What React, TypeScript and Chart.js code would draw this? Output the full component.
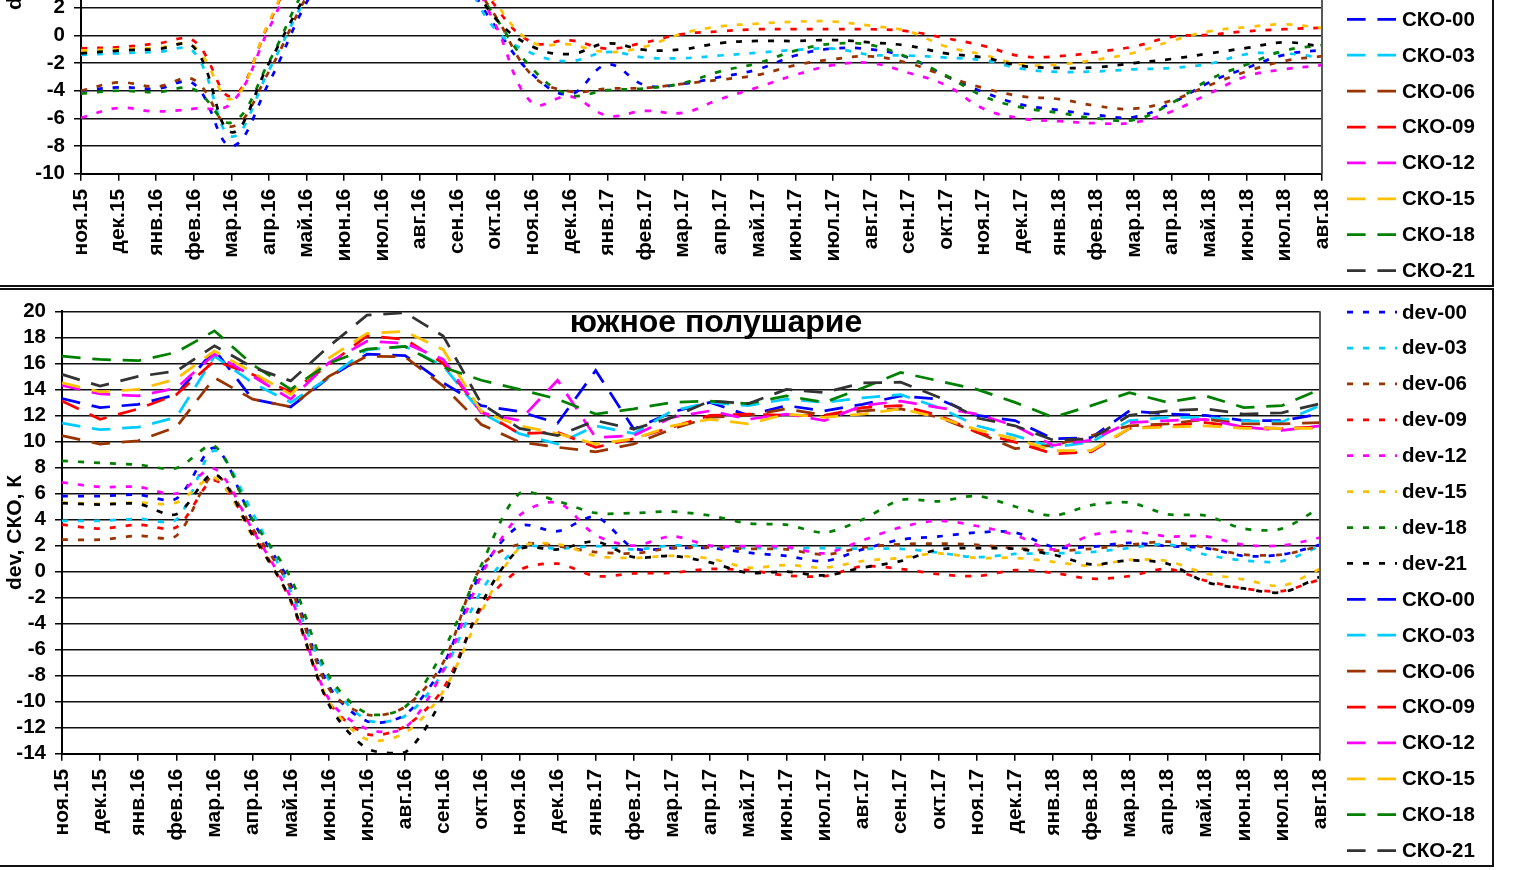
import React, { useEffect, useRef } from "react";
import { Chart, registerables } from "chart.js";

Chart.register(...registerables);

// ---- categories ----
const MONTHS = [
  "ноя.15", "дек.15", "янв.16", "фев.16", "мар.16", "апр.16", "май.16", "июн.16",
  "июл.16", "авг.16", "сен.16", "окт.16", "ноя.16", "дек.16", "янв.17", "фев.17",
  "мар.17", "апр.17", "май.17", "июн.17", "июл.17", "авг.17", "сен.17", "окт.17",
  "ноя.17", "дек.17", "янв.18", "фев.18", "мар.18", "апр.18", "май.18", "июн.18",
  "июл.18", "авг.18",
];

const HOURS = ["00", "03", "06", "09", "12", "15", "18", "21"];
const DEV_COLORS = ["#0000ff", "#00ccff", "#993300", "#ff0000", "#ff00ff", "#ffc000", "#008000", "#000000"];
const SKO_COLORS = ["#0000ff", "#00ccff", "#993300", "#ff0000", "#ff00ff", "#ffc000", "#008000", "#333333"];

// ---- northern hemisphere: dev ----
const northDev00 = [-4.0, -3.75, -3.85, -3.5, -8.0, -3.4, 2.4, 6.5, 8.0, 7.5, 4.8, 0.7, -2.8, -4.25, -2.1, -3.6, -3.5, -3.0, -2.45, -1.45, -0.95, -1.0, -1.6, -2.95, -4.1, -5.0, -5.4, -5.75, -5.9, -4.9, -3.4, -2.35, -1.4, -1.05];
const northDev03 = [-1.4, -1.3, -1.2, -1.2, -7.3, -2.5, 2.8, 6.8, 8.2, 7.8, 5.0, 0.5, -1.3, -1.85, -1.2, -1.6, -1.64, -1.45, -1.25, -1.05, -0.95, -1.4, -1.45, -1.6, -1.8, -2.4, -2.64, -2.6, -2.45, -2.35, -2.05, -1.35, -1.3, -1.6];
const northDev06 = [-4.0, -3.4, -3.7, -3.2, -6.6, -2.6, 2.8, 6.8, 8.0, 7.8, 5.2, 1.5, -2.9, -4.05, -3.85, -3.8, -3.5, -3.2, -2.85, -2.15, -1.72, -1.52, -2.0, -2.95, -3.8, -4.4, -4.6, -5.1, -5.3, -4.7, -3.6, -2.6, -1.85, -1.5];
const northDev09 = [-0.93, -0.85, -0.6, -0.4, -4.4, 0.9, 6.5, 9.0, 10.0, 9.5, 7.0, 2.2, -0.5, -0.35, -0.95, -0.5, 0.1, 0.3, 0.45, 0.45, 0.45, 0.45, 0.3, -0.2, -0.75, -1.5, -1.5, -1.2, -0.8, -0.1, 0.05, 0.3, 0.45, 0.55];
const northDev12 = [-5.95, -5.25, -5.5, -5.3, -4.9, 0.5, 6.0, 8.5, 9.5, 9.0, 6.0, 0.9, -4.9, -4.4, -5.8, -5.45, -5.6, -4.6, -3.75, -2.85, -2.15, -2.0, -2.7, -3.6, -5.3, -6.0, -6.2, -6.35, -6.3, -5.5, -4.2, -2.95, -2.45, -2.15];
const northDev15 = [-1.1, -1.0, -0.9, -0.8, -4.6, 1.0, 6.5, 9.2, 10.2, 9.8, 7.3, 2.5, -0.5, -0.65, -1.2, -0.8, 0.15, 0.65, 0.85, 1.0, 1.0, 0.7, 0.3, -0.8, -1.4, -2.1, -2.1, -1.75, -1.25, -0.4, 0.3, 0.6, 0.8, 0.55];
const northDev18 = [-4.2, -4.0, -4.1, -3.9, -6.3, -1.9, 3.6, 7.2, 8.5, 8.2, 5.5, 1.4, -2.4, -4.3, -3.95, -3.83, -3.45, -2.6, -2.0, -1.1, -0.6, -0.7, -1.6, -2.9, -4.4, -5.2, -5.6, -6.0, -6.1, -4.9, -3.2, -2.1, -1.1, -0.7];
const northDev21 = [-1.3, -1.1, -1.0, -0.85, -7.0, -2.0, 3.0, 7.0, 8.5, 8.0, 5.5, 1.3, -0.8, -1.35, -0.57, -1.05, -1.0, -0.55, -0.4, -0.4, -0.33, -0.5, -0.75, -1.3, -1.6, -2.2, -2.35, -2.3, -2.0, -1.7, -1.3, -0.9, -0.5, -0.8];

// ---- northern hemisphere: СКО ----
const northSko00 = [8.6, 9.1, 9.4, 9.0, 11.2, 10.4, 9.0, 7.8, 8.3, 8.7, 8.1, 8.5, 9.2, 9.8, 10.1, 9.7, 9.3, 8.9, 8.4, 7.9, 8.0, 8.3, 8.6, 8.9, 9.5, 9.9, 10.3, 10.0, 9.6, 9.1, 8.6, 8.1, 8.2, 8.5];
const northSko03 = [7.9, 8.3, 8.8, 8.5, 10.6, 9.9, 8.6, 7.5, 7.9, 8.2, 7.7, 8.0, 8.6, 9.1, 9.5, 9.2, 8.8, 8.5, 8.0, 7.6, 7.7, 7.9, 8.2, 8.4, 8.9, 9.3, 9.7, 9.5, 9.1, 8.7, 8.2, 7.8, 7.8, 8.1];
const northSko06 = [7.2, 7.7, 8.1, 7.8, 9.8, 9.2, 8.1, 7.0, 7.3, 7.6, 7.2, 7.5, 8.0, 8.5, 8.8, 8.6, 8.2, 7.9, 7.5, 7.1, 7.2, 7.4, 7.6, 7.9, 8.3, 8.7, 9.0, 8.8, 8.5, 8.1, 7.7, 7.3, 7.3, 7.6];
const northSko09 = [7.8, 8.2, 8.6, 8.4, 10.3, 9.7, 8.7, 7.6, 7.9, 8.1, 7.8, 8.1, 8.5, 9.0, 9.3, 9.1, 8.7, 8.4, 8.0, 7.7, 7.8, 7.9, 8.1, 8.4, 8.8, 9.2, 9.5, 9.3, 9.0, 8.6, 8.2, 7.9, 7.9, 8.1];
const northSko12 = [9.4, 9.9, 10.3, 10.0, 11.9, 11.2, 9.9, 8.7, 9.1, 9.4, 8.9, 9.3, 9.9, 10.5, 10.8, 10.5, 10.1, 9.7, 9.2, 8.8, 8.9, 9.1, 9.4, 9.7, 10.2, 10.7, 11.0, 10.8, 10.4, 9.9, 9.4, 8.9, 9.0, 9.3];
const northSko15 = [9.0, 9.5, 9.9, 9.6, 11.6, 10.9, 9.6, 8.4, 8.8, 9.1, 8.6, 9.0, 9.6, 10.1, 10.5, 10.2, 9.8, 9.4, 8.9, 8.5, 8.6, 8.8, 9.1, 9.4, 9.9, 10.3, 10.7, 10.5, 10.1, 9.6, 9.1, 8.7, 8.7, 9.0];
const northSko18 = [10.2, 10.7, 11.1, 10.8, 12.6, 11.9, 10.6, 9.4, 9.8, 10.1, 9.6, 10.0, 10.6, 11.2, 11.5, 11.2, 10.8, 10.4, 9.9, 9.5, 9.6, 9.8, 10.1, 10.4, 10.9, 11.4, 11.7, 11.5, 11.1, 10.6, 10.1, 9.6, 9.7, 10.0];
const northSko21 = [9.8, 10.3, 10.7, 10.4, 12.3, 11.6, 10.3, 9.1, 9.5, 9.8, 9.3, 9.7, 10.3, 10.9, 11.2, 10.9, 10.5, 10.1, 9.6, 9.2, 9.3, 9.5, 9.8, 10.1, 10.6, 11.0, 11.4, 11.2, 10.8, 10.3, 9.8, 9.3, 9.4, 9.7];

// ---- southern hemisphere: dev ----
const southDev00 = [5.8, 5.8, 5.9, 5.6, 9.5, 3.9, -1.0, -8.8, -11.5, -11.0, -7.2, 0.0, 3.5, 3.1, 4.2, 1.8, 1.8, 1.8, 1.45, 1.2, 0.8, 1.7, 2.45, 2.7, 3.0, 3.0, 1.9, 1.9, 2.2, 1.95, 1.8, 1.2, 1.3, 2.05];
const southDev03 = [3.9, 3.9, 4.05, 4.0, 9.3, 4.5, -1.5, -8.3, -11.4, -11.1, -7.7, -1.5, 1.85, 1.75, 1.95, 1.7, 2.0, 1.95, 1.8, 1.8, 1.8, 1.75, 1.75, 1.45, 1.1, 1.35, 1.4, 1.5, 1.8, 2.1, 1.3, 0.85, 0.8, 1.95];
const southDev06 = [2.45, 2.45, 2.75, 2.75, 7.4, 3.3, -1.3, -9.0, -11.0, -10.4, -7.0, 0.4, 2.1, 1.95, 1.5, 1.4, 1.8, 1.85, 1.75, 1.7, 1.3, 1.85, 2.1, 2.15, 2.05, 1.8, 1.6, 1.75, 2.05, 2.3, 1.85, 1.3, 1.3, 1.95];
const southDev09 = [3.6, 3.3, 3.6, 3.4, 7.0, 3.0, -2.3, -10.0, -12.5, -11.9, -9.0, -2.8, 0.1, 0.6, -0.35, -0.15, -0.1, 0.2, 0.1, -0.3, -0.35, 0.4, 0.2, -0.2, -0.35, 0.1, -0.1, -0.55, -0.35, 0.2, -0.7, -1.3, -1.5, -0.6];
const southDev12 = [6.85, 6.5, 6.5, 6.0, 7.9, 3.2, -2.0, -9.8, -12.1, -12.0, -7.6, -0.3, 4.3, 5.3, 2.8, 2.0, 2.7, 2.0, 1.95, 1.9, 1.4, 2.4, 3.4, 3.9, 3.5, 2.8, 1.7, 2.8, 3.1, 2.7, 2.7, 2.05, 2.0, 2.6];
const southDev15 = [5.3, 5.2, 5.3, 5.3, 7.2, 2.7, -2.2, -10.0, -12.9, -12.4, -9.2, -3.1, 1.8, 2.1, 1.2, 1.05, 1.2, 1.0, 0.3, 0.5, 0.3, 0.8, 1.05, 1.4, 1.05, 1.05, 0.75, 0.45, 0.9, 0.8, -0.15, -0.6, -1.1, 0.2];
const southDev18 = [8.5, 8.35, 8.2, 7.95, 9.65, 4.0, -0.5, -8.0, -10.9, -10.4, -6.1, 0.5, 6.0, 5.4, 4.5, 4.5, 4.6, 4.3, 3.7, 3.6, 3.0, 4.0, 5.5, 5.4, 5.8, 5.0, 4.3, 5.1, 5.3, 4.4, 4.3, 3.3, 3.3, 4.9];
const southDev21 = [5.25, 5.15, 5.2, 4.4, 7.5, 2.8, -2.2, -10.2, -13.6, -13.9, -9.6, -2.5, 1.7, 1.7, 2.3, 1.1, 1.2, 0.7, -0.1, 0.0, -0.3, 0.3, 0.8, 1.7, 1.8, 1.75, 1.3, 0.55, 0.85, 0.6, -0.8, -1.3, -1.6, -0.4];

// ---- southern hemisphere: СКО ----
const southSko00 = [13.3, 12.6, 12.85, 13.6, 17.05, 13.25, 12.65, 14.9, 16.7, 16.6, 14.5, 12.75, 12.3, 11.4, 15.45, 10.95, 12.25, 13.0, 12.0, 12.75, 12.35, 12.85, 13.5, 13.25, 12.0, 11.6, 10.2, 10.3, 12.35, 12.1, 12.0, 11.6, 11.6, 12.1];
const southSko03 = [11.4, 10.9, 11.1, 11.85, 16.55, 14.5, 13.0, 14.9, 17.05, 17.3, 15.8, 12.2, 10.6, 9.8, 11.2, 10.6, 12.35, 13.0, 12.75, 13.25, 13.0, 13.35, 13.6, 12.6, 11.2, 10.45, 9.55, 9.95, 11.6, 11.85, 11.85, 11.6, 11.5, 12.75];
const southSko06 = [10.45, 9.8, 10.05, 11.1, 14.9, 13.25, 12.65, 15.0, 16.55, 16.5, 14.25, 11.3, 9.95, 9.55, 9.2, 9.8, 10.95, 11.85, 12.0, 12.5, 12.0, 12.35, 12.5, 11.85, 10.7, 9.45, 9.7, 10.45, 11.2, 11.35, 11.7, 11.35, 11.35, 11.45];
const southSko09 = [13.1, 11.7, 12.5, 13.6, 16.2, 15.15, 13.8, 15.9, 18.1, 17.85, 16.0, 12.3, 10.6, 10.7, 9.55, 10.2, 11.1, 12.0, 12.1, 12.0, 12.0, 12.6, 12.75, 12.0, 10.7, 9.95, 9.05, 9.2, 11.0, 11.2, 11.45, 11.1, 11.0, 11.1];
const southSko12 = [14.3, 13.65, 13.5, 14.1, 16.7, 15.0, 13.25, 16.05, 17.7, 17.55, 16.3, 12.2, 11.6, 14.7, 10.3, 10.45, 11.85, 12.35, 11.7, 12.1, 11.6, 12.75, 13.1, 12.6, 12.1, 11.2, 9.7, 10.1, 11.45, 11.6, 11.7, 11.1, 10.85, 11.2];
const southSko15 = [14.5, 13.8, 14.0, 14.8, 16.95, 15.3, 13.6, 16.4, 18.3, 18.45, 17.05, 12.3, 11.2, 10.6, 9.8, 10.2, 11.2, 11.7, 11.35, 12.1, 11.85, 12.1, 12.5, 11.85, 10.9, 10.2, 9.3, 9.3, 11.0, 11.1, 11.2, 11.0, 11.0, 11.0];
const southSko18 = [16.55, 16.3, 16.2, 16.85, 18.5, 15.9, 14.0, 16.0, 17.1, 17.3, 15.7, 14.7, 14.0, 13.25, 12.1, 12.5, 13.0, 13.1, 12.9, 13.5, 13.0, 14.1, 15.3, 14.65, 14.0, 13.0, 11.85, 12.75, 13.75, 13.0, 13.5, 12.6, 12.75, 14.0];
const southSko21 = [15.15, 14.25, 15.0, 15.4, 17.35, 15.7, 14.65, 17.3, 19.7, 19.9, 18.1, 12.9, 11.0, 10.45, 11.6, 10.95, 11.85, 13.1, 12.9, 14.0, 13.75, 14.5, 14.55, 13.4, 11.8, 11.2, 10.1, 10.2, 12.0, 12.35, 12.5, 12.1, 12.2, 12.9];

const NORTH_DEV = [northDev00, northDev03, northDev06, northDev09, northDev12, northDev15, northDev18, northDev21];
const NORTH_SKO = [northSko00, northSko03, northSko06, northSko09, northSko12, northSko15, northSko18, northSko21];
const SOUTH_DEV = [southDev00, southDev03, southDev06, southDev09, southDev12, southDev15, southDev18, southDev21];
const SOUTH_SKO = [southSko00, southSko03, southSko06, southSko09, southSko12, southSko15, southSko18, southSko21];

const SOUTH_TITLE = "южное полушарие";
const Y_TITLE = "dev, СКО, К";

// ---- drawing styles ----
const FONT = '"Liberation Sans", Arial, Helvetica, sans-serif';
const DEV_DASH = [6, 10];
const SKO_DASH = [18.6, 11.8];
const LINE_W = 2.75;
const CANVAS_W = 1490;
const CANVAS_H = 575;

function buildDatasets(dev: number[][], sko: number[][], devTension: number) {
  const list: any[] = [];
  HOURS.forEach((h, i) => {
    list.push({
      label: `dev-${h}`,
      data: dev[i],
      borderColor: DEV_COLORS[i],
      backgroundColor: DEV_COLORS[i],
      borderWidth: LINE_W,
      borderDash: DEV_DASH,
      borderCapStyle: "butt",
      pointRadius: 0,
      pointHoverRadius: 0,
      tension: devTension,
      fill: false,
    });
  });
  HOURS.forEach((h, i) => {
    list.push({
      label: `СКО-${h}`,
      data: sko[i],
      borderColor: SKO_COLORS[i],
      backgroundColor: SKO_COLORS[i],
      borderWidth: LINE_W,
      borderDash: SKO_DASH,
      borderCapStyle: "butt",
      pointRadius: 0,
      pointHoverRadius: 0,
      tension: 0,
      fill: false,
    });
  });
  // later series are painted above earlier ones
  list.forEach((d, i) => (d.order = list.length - i));
  return list;
}

// side legend with line samples, and the right edge of the plot frame
const sideLegend = {
  id: "sideLegend",
  afterDraw(chart: any) {
    const ctx = chart.ctx;
    const area = chart.chartArea;
    ctx.save();
    ctx.strokeStyle = "#595959";
    ctx.lineWidth = 2;
    ctx.setLineDash([]);
    ctx.beginPath();
    ctx.moveTo(area.right, area.top);
    ctx.lineTo(area.right, area.bottom);
    ctx.stroke();

    const x0 = chart.width - 143;
    const firstBase = 28.5;
    const step = 35.9;
    chart.data.datasets.forEach((ds: any, i: number) => {
      const base = firstBase + i * step;
      ctx.strokeStyle = ds.borderColor;
      ctx.lineWidth = ds.borderWidth;
      ctx.lineCap = "butt";
      ctx.setLineDash(ds.borderDash);
      ctx.beginPath();
      ctx.moveTo(x0, base - 6.4);
      ctx.lineTo(x0 + 50, base - 6.4);
      ctx.stroke();
      ctx.setLineDash([]);
      ctx.fillStyle = "#000";
      ctx.font = `bold 20.5px ${FONT}`;
      ctx.textAlign = "left";
      ctx.textBaseline = "alphabetic";
      ctx.fillText(ds.label, x0 + 55, base);
    });
    ctx.restore();
  },
};

function titlePlugin(text: string, x: number, baseline: number) {
  return {
    id: "panelTitle",
    afterDraw(chart: any) {
      const ctx = chart.ctx;
      ctx.save();
      ctx.fillStyle = "#000";
      ctx.font = `bold 32px ${FONT}`;
      ctx.textAlign = "center";
      ctx.textBaseline = "alphabetic";
      ctx.fillText(text, x, baseline);
      ctx.restore();
    },
  };
}

type PanelSpec = {
  dev: number[][];
  sko: number[][];
  yMin: number;
  yMax: number;
  padTop: number;
  padRight: number;
  yWidth: number;
  devTension: number;
  title?: { text: string; x: number; baseline: number };
};

function makeConfig(p: PanelSpec): any {
  const xFont = { family: FONT, size: 21, weight: "bold" as const };
  const yFont = { family: FONT, size: 20.5, weight: "bold" as const };
  const plugins: any[] = [sideLegend];
  if (p.title) plugins.push(titlePlugin(p.title.text, p.title.x, p.title.baseline));
  return {
    type: "line",
    data: { labels: MONTHS, datasets: buildDatasets(p.dev, p.sko, p.devTension) },
    options: {
      responsive: false,
      animation: false,
      devicePixelRatio: 1,
      events: [],
      layout: { padding: { top: p.padTop, right: p.padRight, bottom: 0, left: 0 } },
      plugins: {
        legend: { display: false },
        tooltip: { enabled: false },
        title: { display: false },
      },
      scales: {
        x: {
          type: "category",
          offset: false,
          grid: {
            display: true,
            drawOnChartArea: false,
            drawTicks: true,
            tickLength: 7,
            color: "#000",
            lineWidth: 1.5,
          },
          border: { display: true, color: "#000", width: 2 },
          ticks: {
            autoSkip: false,
            maxRotation: 90,
            minRotation: 90,
            padding: 8,
            color: "#000",
            font: xFont,
          },
          afterFit: (s: any) => {
            s.height = 111.3;
          },
        },
        y: {
          min: p.yMin,
          max: p.yMax,
          ticks: { stepSize: 2, autoSkip: false, padding: 9, color: "#000", font: yFont },
          grid: { color: "#111", lineWidth: 1.5, tickLength: 7, drawTicks: true, tickColor: "#000" },
          border: { display: true, color: "#000", width: 2 },
          title: {
            display: true,
            text: Y_TITLE,
            color: "#000",
            font: { family: FONT, size: 21, weight: "bold" },
            padding: { top: 3, bottom: 0 },
          },
          afterFit: (s: any) => {
            s.width = p.yWidth;
          },
        },
      },
    },
    plugins,
  };
}

function ChartCanvas({ spec, top }: { spec: PanelSpec; top: number }) {
  const ref = useRef<HTMLCanvasElement | null>(null);
  useEffect(() => {
    if (!ref.current) return;
    const chart = new Chart(ref.current, makeConfig(spec));
    return () => chart.destroy();
  }, []);
  return (
    <canvas
      ref={ref}
      width={CANVAS_W}
      height={CANVAS_H}
      style={{ position: "absolute", left: 0, top, width: CANVAS_W, height: CANVAS_H }}
    />
  );
}

const NORTH_SPEC: PanelSpec = {
  dev: NORTH_DEV,
  sko: NORTH_SKO,
  yMin: -10,
  yMax: 22,
  padTop: 15.7,
  padRight: 168,
  yWidth: 81,
  devTension: 0.4,
};

const SOUTH_SPEC: PanelSpec = {
  dev: SOUTH_DEV,
  sko: SOUTH_SKO,
  yMin: -14,
  yMax: 20,
  padTop: 17.7,
  padRight: 170,
  yWidth: 62,
  devTension: 0.3,
  title: { text: SOUTH_TITLE, x: 716, baseline: 41.5 },
};

export default function App() {
  return (
    <div
      style={{
        position: "absolute",
        left: 0,
        top: 0,
        width: 1518,
        height: 870,
        overflow: "hidden",
        background: "#fff",
      }}
    >
      <div
        style={{
          position: "absolute",
          left: -10,
          top: -300,
          width: 1504,
          height: 587,
          boxSizing: "border-box",
          border: "2px solid #111",
        }}
      />
      <div
        style={{
          position: "absolute",
          left: -10,
          top: 288,
          width: 1504,
          height: 579,
          boxSizing: "border-box",
          border: "2px solid #111",
        }}
      />
      <ChartCanvas spec={NORTH_SPEC} top={-290} />
      <ChartCanvas spec={SOUTH_SPEC} top={290} />
    </div>
  );
}
